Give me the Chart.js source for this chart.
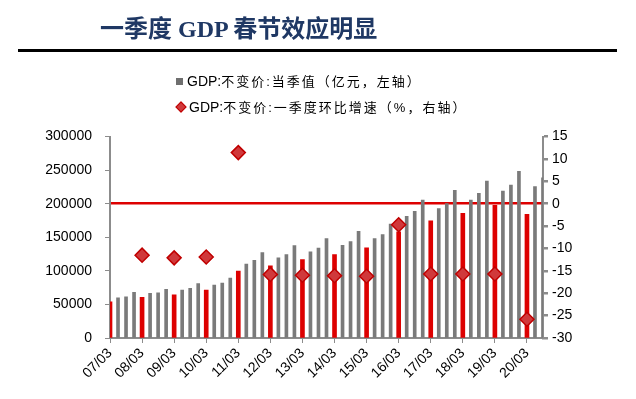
<!DOCTYPE html>
<html>
<head>
<meta charset="utf-8">
<script src="https://cdn.jsdelivr.net/npm/chart.js@4.4.1/dist/chart.umd.min.js"></script>
<style>
  html, body { margin: 0; padding: 0; background: #fff; }
  #wrap { position: relative; width: 636px; height: 399px; overflow: hidden; }
  #c { position: absolute; left: 0; top: 0; }
  .title { position: absolute; left: 100px; top: 15px; font: bold 24px "Liberation Serif", "Noto Sans CJK SC", serif; color: #1f3864; line-height: 28px; white-space: nowrap; }
  .rule { position: absolute; left: 18px; top: 49px; width: 599px; height: 3px; background: #000; }
  .leg { position: absolute; left: 176px; font: 13px "Liberation Sans", "Noto Sans CJK SC", sans-serif; letter-spacing: 2px; color: #000; line-height: 16px; white-space: nowrap; }
  .lat { letter-spacing: 0; font-size: 14px; }
  .sq { display: inline-block; width: 7px; height: 7px; background: #6f6f6f; margin-right: 4px; vertical-align: 1px; }
  .dm { display: inline-block; width: 6px; height: 6px; background: #d0393b; border: 1px solid #c00000; transform: rotate(45deg); margin-left: 1px; margin-right: 4px; vertical-align: 1px; }
</style>
</head>
<body>
<div id="wrap">
  <canvas id="c" width="636" height="399"></canvas>
  <div class="title">一季度 GDP 春节效应明显</div>
  <div class="rule"></div>
  <div class="leg" style="top:73px;"><span class="sq"></span><span class="lat">GDP:</span>不变价:当季值（亿元，左轴）</div>
  <div class="leg" style="top:99px;"><span class="dm"></span><span class="lat">GDP:</span>不变价:一季度环比增速（%，右轴）</div>
</div>
<script>
// Quarter labels 2007Q1 .. 2020Q3
const quarters = [
  '07/03','07/06','07/09','07/12','08/03','08/06','08/09','08/12',
  '09/03','09/06','09/09','09/12','10/03','10/06','10/09','10/12',
  '11/03','11/06','11/09','11/12','12/03','12/06','12/09','12/12',
  '13/03','13/06','13/09','13/12','14/03','14/06','14/09','14/12',
  '15/03','15/06','15/09','15/12','16/03','16/06','16/09','16/12',
  '17/03','17/06','17/09','17/12','18/03','18/06','18/09','18/12',
  '19/03','19/06','19/09','19/12','20/03','20/06','20/09'
];
// GDP constant price, quarterly value (100 million yuan, left axis)
const gdpQuarterly = [
  53900, 59850, 61300, 67900,
  60400, 66400, 67300, 72300,
  64300, 71300, 73800, 81200,
  71300, 78700, 81700, 89100,
  99500, 109900, 115800, 127200,
  107400, 119300, 124200, 137600,
  116800, 128200, 133700, 148000,
  124200, 138100, 143600, 158900,
  134100, 148000, 153900, 169500,
  158000, 181000, 188600, 205400,
  174300, 192600, 200000, 219800,
  185600, 205400, 215300, 233600,
  197500, 218800, 227700, 248000,
  184100, 225300, 238600
];
// Q1 quarter-on-quarter growth (%, right axis), 2008Q1 .. 2020Q1
const q1Labels = ['08/03','09/03','10/03','11/03','12/03','13/03','14/03','15/03','16/03','17/03','18/03','19/03','20/03'];
const q1Growth = [-11.5, -12.1, -11.9, 11.4, -15.8, -16.0, -16.1, -16.2, -4.7, -15.7, -15.7, -15.7, -25.8];
const leftTicks = [0, 50000, 100000, 150000, 200000, 250000, 300000];
const rightTicks = [-30, -25, -20, -15, -10, -5, 0, 5, 10, 15];

const isQ1 = l => l.endsWith('/03');
const grayBars = gdpQuarterly.map((v, i) => isQ1(quarters[i]) ? null : v);
const redBars = gdpQuarterly.map((v, i) => isQ1(quarters[i]) ? v : null);
const diamonds = quarters.map(q => { const k = q1Labels.indexOf(q); return k >= 0 ? q1Growth[k] : null; });

const RED = '#dd0000';
const AXIS = '#8c8c8c';
const tickFont = { family: '"Liberation Sans", Arial, sans-serif', size: 14 };

new Chart(document.getElementById('c'), {
  type: 'bar',
  data: {
    labels: quarters,
    datasets: [
      { type: 'line', label: 'GDP:不变价:一季度环比增速（%，右轴）', data: diamonds, yAxisID: 'y2',
        showLine: false, pointStyle: 'rectRot', pointRadius: 7, pointHoverRadius: 7,
        pointBackgroundColor: '#d0393b', pointBorderColor: '#c00000', pointBorderWidth: 1.5, order: 0 },
      { label: 'GDP:不变价:当季值（亿元，左轴）', data: grayBars, yAxisID: 'y', backgroundColor: '#7a7a7a',
        barThickness: 3, grouped: false, order: 2 },
      { label: 'Q1', data: redBars, yAxisID: 'y', backgroundColor: RED, barThickness: 4, grouped: false, order: 1 }
    ]
  },
  options: {
    responsive: false,
    animation: false,
    layout: { padding: { top: 136.5, left: 0, right: 0, bottom: 0 } },
    plugins: { legend: { display: false }, tooltip: { enabled: false }, title: { display: false } },
    scales: {
      x: {
        type: 'category', offset: false,
        grid: { display: true, offset: false, drawOnChartArea: false, drawTicks: true, tickLength: 5, tickColor: AXIS },
        border: { color: AXIS, width: 2 },
        ticks: { autoSkip: false, maxRotation: 45, minRotation: 45, padding: 2, color: '#000', font: tickFont,
          callback: function(v, i) { const l = quarters[i]; return isQ1(l) ? l : null; } },
        afterFit: s => { s.height = 61; }
      },
      y: {
        position: 'left', min: 0, max: 300000,
        afterBuildTicks: s => { s.ticks = leftTicks.map(v => ({ value: v })); },
        grid: { drawOnChartArea: false, drawTicks: true, tickLength: 5, tickColor: AXIS },
        border: { color: AXIS, width: 2 },
        ticks: { padding: 13, color: '#000', font: tickFont, callback: v => String(v) },
        afterFit: s => { s.width = 110; }
      },
      y2: {
        position: 'right', min: -30, max: 15,
        afterBuildTicks: s => { s.ticks = rightTicks.map(v => ({ value: v })); },
        grid: { drawOnChartArea: true, drawTicks: true, tickLength: 5, tickColor: AXIS, lineWidth: 2.5,
          color: ctx => (ctx.tick && ctx.tick.value === 0) ? RED : 'rgba(0,0,0,0)' },
        border: { color: AXIS, width: 2 },
        ticks: { padding: 4, color: '#000', font: tickFont, callback: v => String(v) },
        afterFit: s => { s.width = 93; }
      }
    }
  }
});
</script>
</body>
</html>
